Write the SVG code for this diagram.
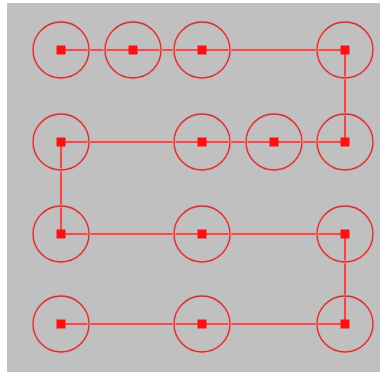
<svg xmlns="http://www.w3.org/2000/svg" width="380" height="372" viewBox="0 0 380 372">
<style>
.halo{fill:none;stroke:#eea4a4;stroke-width:3}
.ring{fill:none;stroke:#b83c3c;stroke-width:1.3}
.lh{fill:none;stroke:#f0a8a8;stroke-width:3.5}
.ln{fill:none;stroke:#d83a3a;stroke-width:1.6}
.dot{fill:#ff1010}
</style>
<defs>
<g id="n">
<circle class="halo" r="28"/>
<circle class="ring" r="28"/>
<rect class="dot" x="-4.5" y="-4.5" width="9" height="9"/>
</g>
</defs>
<rect width="380" height="372" fill="#ffffff"/>
<rect x="7" y="3" width="373" height="369" fill="#c0c0c0"/>
<g id="connectors">
<polyline class="lh" points="61,50 345,50 345,142 61,142 61,234 345,234 345,324 61,324"/>
<polyline class="ln" points="61,50 345,50 345,142 61,142 61,234 345,234 345,324 61,324"/>
</g>
<g id="n1"><use href="#n" x="61" y="50"/></g>
<g id="n2"><use href="#n" x="133" y="50"/></g>
<g id="n3"><use href="#n" x="202" y="50"/></g>
<g id="n4"><use href="#n" x="345" y="50"/></g>
<g id="n5"><use href="#n" x="61" y="142"/></g>
<g id="n6"><use href="#n" x="202" y="142"/></g>
<g id="n7"><use href="#n" x="274" y="142"/></g>
<g id="n8"><use href="#n" x="345" y="142"/></g>
<g id="n9"><use href="#n" x="61" y="234"/></g>
<g id="n10"><use href="#n" x="202" y="234"/></g>
<g id="n11"><use href="#n" x="345" y="234"/></g>
<g id="n12"><use href="#n" x="61" y="324"/></g>
<g id="n13"><use href="#n" x="202" y="324"/></g>
<g id="n14"><use href="#n" x="345" y="324"/></g>
</svg>
